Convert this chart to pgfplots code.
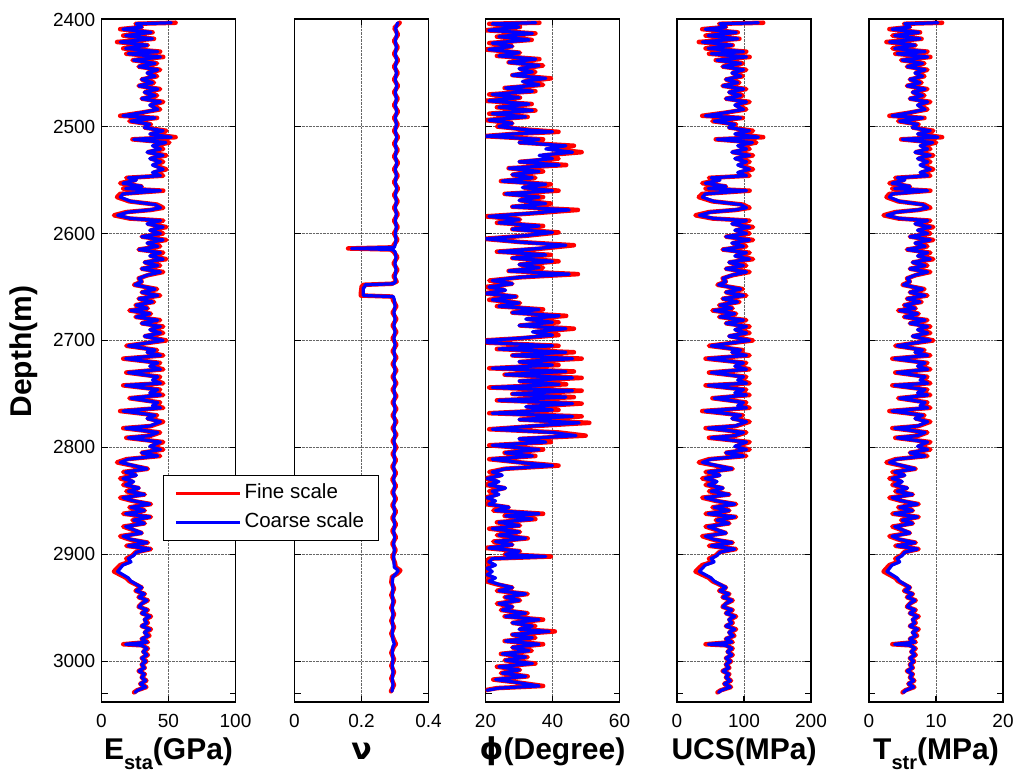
\documentclass[border=0pt]{standalone}
\usepackage{pgfplots}
\pgfplotsset{compat=1.18}
\usepackage{pgfplotstable}
\usepackage{fontspec}
\setmainfont{Liberation Sans}
\newfontfamily\dejavu{DejaVu Sans}

\pgfplotstableread{
d Ec Ef Uc Uf Tc Tf
2403 52 55.3 121.4 128.7 10.28 10.91
2404 26 25.4 64.2 62.9 5.34 5.23
2407 30 30.0 73.0 73.0 6.10 6.10
2409 16 13.9 42.2 37.6 3.44 3.04
2412 37 38.1 88.4 90.7 7.43 7.63
2415 18 16.2 46.6 42.6 3.82 3.48
2418 38 39.2 90.6 93.2 7.62 7.85
2421 14 11.6 37.8 32.5 3.06 2.60
2424 34 34.6 81.8 83.1 6.86 6.97
2427 18 16.2 46.6 42.6 3.82 3.48
2430 42 43.8 99.4 103.4 8.38 8.72
2432 20 18.5 51.0 47.7 4.20 3.92
2435 44 46.1 103.8 108.4 8.76 9.16
2438 24 23.1 59.8 57.8 4.96 4.79
2441 40 41.5 95.0 98.3 8.00 8.28
2444 28 27.7 68.6 68.0 5.72 5.66
2447 42 43.8 99.4 103.4 8.38 8.72
2450 34 34.6 81.8 83.1 6.86 6.97
2453 40 41.5 95.0 98.3 8.00 8.28
2456 30 30.0 73.0 73.0 6.10 6.10
2459 38 39.2 90.6 93.2 7.62 7.85
2462 28 27.7 68.6 68.0 5.72 5.66
2465 42 43.8 99.4 103.4 8.38 8.72
2468 32 32.3 77.4 78.1 6.48 6.54
2471 40 41.5 95.0 98.3 8.00 8.28
2474 30 30.0 73.0 73.0 6.10 6.10
2477 44 46.1 103.8 108.4 8.76 9.16
2480 36 36.9 86.2 88.2 7.24 7.41
2484 42 43.8 99.4 103.4 8.38 8.72
2487 30 30.0 73.0 73.0 6.10 6.10
2490 16 13.9 42.2 37.6 3.44 3.04
2492 40 41.5 95.0 98.3 8.00 8.28
2495 22 20.8 55.4 52.8 4.58 4.35
2498 36 36.9 86.2 88.2 7.24 7.41
2501 32 32.3 77.4 78.1 6.48 6.54
2504 46 48.4 108.2 113.5 9.14 9.60
2507 36 36.9 86.2 88.2 7.24 7.41
2510 52 55.3 121.4 128.7 10.28 10.91
2512 24 23.1 59.8 57.8 4.96 4.79
2515 48 50.7 112.6 118.5 9.52 10.03
2518 38 39.2 90.6 93.2 7.62 7.85
2521 44 46.1 103.8 108.4 8.76 9.16
2524 34 34.6 81.8 83.1 6.86 6.97
2527 46 48.4 108.2 113.5 9.14 9.60
2530 36 36.9 86.2 88.2 7.24 7.41
2533 44 46.1 103.8 108.4 8.76 9.16
2536 38 39.2 90.6 93.2 7.62 7.85
2540 46 48.4 108.2 113.5 9.14 9.60
2543 38 39.2 90.6 93.2 7.62 7.85
2546 44 46.1 103.8 108.4 8.76 9.16
2548 20 18.5 51.0 47.7 4.20 3.92
2550 26 25.4 64.2 62.9 5.34 5.23
2553 16 13.9 42.2 37.6 3.44 3.04
2556 30 30.0 73.0 73.0 6.10 6.10
2558 18 16.2 46.6 42.6 3.82 3.48
2560 44 46.1 103.8 108.4 8.76 9.16
2563 16 13.9 42.2 37.6 3.44 3.04
2566 14 11.6 37.8 32.5 3.06 2.60
2570 22 20.8 55.4 52.8 4.58 4.35
2573 40 41.5 95.0 98.3 8.00 8.28
2576 44 46.1 103.8 108.4 8.76 9.16
2578 36 36.9 86.2 88.2 7.24 7.41
2580 20 18.5 51.0 47.7 4.20 3.92
2583 12 9.3 33.4 27.5 2.68 2.17
2586 22 20.8 55.4 52.8 4.58 4.35
2588 44 46.1 103.8 108.4 8.76 9.16
2591 34 34.6 81.8 83.1 6.86 6.97
2594 46 48.4 108.2 113.5 9.14 9.60
2597 36 36.9 86.2 88.2 7.24 7.41
2600 44 46.1 103.8 108.4 8.76 9.16
2603 30 30.0 73.0 73.0 6.10 6.10
2606 46 48.4 108.2 113.5 9.14 9.60
2609 34 34.6 81.8 83.1 6.86 6.97
2612 42 43.8 99.4 103.4 8.38 8.72
2615 28 27.7 68.6 68.0 5.72 5.66
2618 44 46.1 103.8 108.4 8.76 9.16
2621 36 36.9 86.2 88.2 7.24 7.41
2624 46 48.4 108.2 113.5 9.14 9.60
2627 32 32.3 77.4 78.1 6.48 6.54
2630 42 43.8 99.4 103.4 8.38 8.72
2633 30 30.0 73.0 73.0 6.10 6.10
2636 44 46.1 103.8 108.4 8.76 9.16
2639 34 34.6 81.8 83.1 6.86 6.97
2642 28 27.7 68.6 68.0 5.72 5.66
2645 30 30.0 73.0 73.0 6.10 6.10
2648 25 24.3 62.0 60.4 5.15 5.01
2652 40 41.5 95.0 98.3 8.00 8.28
2655 30 30.0 73.0 73.0 6.10 6.10
2658 42 43.8 99.4 103.4 8.38 8.72
2661 28 27.7 68.6 68.0 5.72 5.66
2664 38 39.2 90.6 93.2 7.62 7.85
2667 26 25.4 64.2 62.9 5.34 5.23
2670 34 34.6 81.8 83.1 6.86 6.97
2672 22 20.8 55.4 52.8 4.58 4.35
2675 36 36.9 86.2 88.2 7.24 7.41
2678 26 25.4 64.2 62.9 5.34 5.23
2681 42 43.8 99.4 103.4 8.38 8.72
2684 30 30.0 73.0 73.0 6.10 6.10
2687 44 46.1 103.8 108.4 8.76 9.16
2690 36 36.9 86.2 88.2 7.24 7.41
2693 44 46.1 103.8 108.4 8.76 9.16
2696 32 32.3 77.4 78.1 6.48 6.54
2700 46 48.4 108.2 113.5 9.14 9.60
2705 20 18.5 51.0 47.7 4.20 3.92
2709 40 41.5 95.0 98.3 8.00 8.28
2711 34 34.6 81.8 83.1 6.86 6.97
2714 44 46.1 103.8 108.4 8.76 9.16
2717 18 16.2 46.6 42.6 3.82 3.48
2721 42 43.8 99.4 103.4 8.38 8.72
2724 36 36.9 86.2 88.2 7.24 7.41
2727 44 46.1 103.8 108.4 8.76 9.16
2730 20 18.5 51.0 47.7 4.20 3.92
2734 42 43.8 99.4 103.4 8.38 8.72
2737 38 39.2 90.6 93.2 7.62 7.85
2740 44 46.1 103.8 108.4 8.76 9.16
2742 18 16.2 46.6 42.6 3.82 3.48
2746 42 43.8 99.4 103.4 8.38 8.72
2749 36 36.9 86.2 88.2 7.24 7.41
2751 44 46.1 103.8 108.4 8.76 9.16
2754 22 20.8 55.4 52.8 4.58 4.35
2758 42 43.8 99.4 103.4 8.38 8.72
2761 38 39.2 90.6 93.2 7.62 7.85
2763 44 46.1 103.8 108.4 8.76 9.16
2766 16 13.9 42.2 37.6 3.44 3.04
2770 40 41.5 95.0 98.3 8.00 8.28
2773 34 34.6 81.8 83.1 6.86 6.97
2776 44 46.1 103.8 108.4 8.76 9.16
2780 36 36.9 86.2 88.2 7.24 7.41
2782 18 16.2 46.6 42.6 3.82 3.48
2786 42 43.8 99.4 103.4 8.38 8.72
2789 36 36.9 86.2 88.2 7.24 7.41
2791 20 18.5 51.0 47.7 4.20 3.92
2795 44 46.1 103.8 108.4 8.76 9.16
2799 36 36.9 86.2 88.2 7.24 7.41
2802 44 46.1 103.8 108.4 8.76 9.16
2805 30 30.0 73.0 73.0 6.10 6.10
2808 42 43.8 99.4 103.4 8.38 8.72
2811 20 18.5 51.0 47.7 4.20 3.92
2814 14 11.6 37.8 32.5 3.06 2.60
2817 24 23.1 59.8 57.8 4.96 4.79
2820 34 34.6 81.8 83.1 6.86 6.97
2823 18 16.2 46.6 42.6 3.82 3.48
2826 26 25.4 64.2 62.9 5.34 5.23
2829 16 13.9 42.2 37.6 3.44 3.04
2832 24 23.1 59.8 57.8 4.96 4.79
2835 18 16.2 46.6 42.6 3.82 3.48
2838 28 27.7 68.6 68.0 5.72 5.66
2841 20 18.5 51.0 47.7 4.20 3.92
2844 32 32.3 77.4 78.1 6.48 6.54
2847 16 13.9 42.2 37.6 3.44 3.04
2850 24 23.1 59.8 57.8 4.96 4.79
2853 36 36.9 86.2 88.2 7.24 7.41
2856 22 20.8 55.4 52.8 4.58 4.35
2859 32 32.3 77.4 78.1 6.48 6.54
2862 18 16.2 46.6 42.6 3.82 3.48
2865 36 36.9 86.2 88.2 7.24 7.41
2868 24 23.1 59.8 57.8 4.96 4.79
2871 32 32.3 77.4 78.1 6.48 6.54
2874 18 16.2 46.6 42.6 3.82 3.48
2877 24 23.1 59.8 57.8 4.96 4.79
2880 30 30.0 73.0 73.0 6.10 6.10
2883 16 13.9 42.2 37.6 3.44 3.04
2886 22 20.8 55.4 52.8 4.58 4.35
2889 34 34.6 81.8 83.1 6.86 6.97
2892 20 18.5 51.0 47.7 4.20 3.92
2895 36 36.9 86.2 88.2 7.24 7.41
2898 26 25.4 64.2 62.9 5.34 5.23
2901 24 23.1 59.8 57.8 4.96 4.79
2904 20 18.5 51.0 47.7 4.20 3.92
2907 22 20.8 55.4 52.8 4.58 4.35
2910 16 13.9 42.2 37.6 3.44 3.04
2913 14 11.6 37.8 32.5 3.06 2.60
2916 12 9.3 33.4 27.5 2.68 2.17
2919 16 13.9 42.2 37.6 3.44 3.04
2922 20 18.5 51.0 47.7 4.20 3.92
2925 22 20.8 55.4 52.8 4.58 4.35
2928 26 25.4 64.2 62.9 5.34 5.23
2931 30 30.0 73.0 73.0 6.10 6.10
2934 26 25.4 64.2 62.9 5.34 5.23
2937 32 32.3 77.4 78.1 6.48 6.54
2940 28 27.7 68.6 68.0 5.72 5.66
2943 34 34.6 81.8 83.1 6.86 6.97
2946 30 30.0 73.0 73.0 6.10 6.10
2949 28 27.7 68.6 68.0 5.72 5.66
2952 34 34.6 81.8 83.1 6.86 6.97
2955 30 30.0 73.0 73.0 6.10 6.10
2958 36 36.9 86.2 88.2 7.24 7.41
2961 32 32.3 77.4 78.1 6.48 6.54
2964 34 34.6 81.8 83.1 6.86 6.97
2967 30 30.0 73.0 73.0 6.10 6.10
2970 36 36.9 86.2 88.2 7.24 7.41
2973 32 32.3 77.4 78.1 6.48 6.54
2976 35 35.8 84.0 85.7 7.05 7.19
2979 30 30.0 73.0 73.0 6.10 6.10
2982 34 34.6 81.8 83.1 6.86 6.97
2984 18 16.2 46.6 42.6 3.82 3.48
2985 30 30.0 73.0 73.0 6.10 6.10
2988 34 34.6 81.8 83.1 6.86 6.97
2991 31 31.2 75.2 75.5 6.29 6.32
2994 34 34.6 81.8 83.1 6.86 6.97
2997 30 30.0 73.0 73.0 6.10 6.10
3000 33 33.5 79.6 80.6 6.67 6.76
3003 30 30.0 73.0 73.0 6.10 6.10
3006 32 32.3 77.4 78.1 6.48 6.54
3009 28 27.7 68.6 68.0 5.72 5.66
3012 32 32.3 77.4 78.1 6.48 6.54
3015 30 30.0 73.0 73.0 6.10 6.10
3018 33 33.5 79.6 80.6 6.67 6.76
3021 29 28.9 70.8 70.5 5.91 5.88
3024 33 33.5 79.6 80.6 6.67 6.76
3027 27 26.6 66.4 65.4 5.53 5.44
3029 25 24.3 62.0 60.4 5.15 5.01
}\tabE

\pgfplotstableread{
d nc nf
2403 0.308 0.314
2408 0.302 0.298
2414 0.305 0.309
2420 0.301 0.297
2426 0.304 0.308
2432 0.301 0.297
2438 0.305 0.309
2444 0.301 0.297
2450 0.304 0.308
2456 0.301 0.297
2462 0.305 0.309
2468 0.301 0.297
2474 0.304 0.308
2480 0.301 0.297
2486 0.305 0.309
2492 0.301 0.297
2498 0.304 0.308
2504 0.301 0.297
2510 0.305 0.309
2516 0.301 0.297
2522 0.304 0.308
2528 0.301 0.297
2534 0.305 0.309
2540 0.301 0.297
2546 0.304 0.308
2552 0.301 0.297
2558 0.305 0.309
2564 0.301 0.297
2570 0.304 0.308
2576 0.301 0.297
2582 0.304 0.308
2588 0.301 0.297
2594 0.304 0.308
2600 0.301 0.297
2606 0.303 0.307
2611 0.300 0.296
2613 0.298 0.294
2614 0.170 0.160
2615 0.292 0.287
2617 0.300 0.296
2622 0.303 0.307
2628 0.300 0.296
2634 0.303 0.307
2640 0.300 0.296
2645 0.302 0.305
2647 0.295 0.290
2648 0.210 0.205
2650 0.210 0.200
2651 0.205 0.200
2656 0.205 0.198
2658 0.205 0.198
2659 0.295 0.292
2662 0.298 0.294
2668 0.300 0.304
2674 0.297 0.293
2680 0.300 0.304
2686 0.297 0.293
2692 0.300 0.304
2698 0.297 0.293
2704 0.300 0.304
2710 0.297 0.293
2716 0.300 0.304
2722 0.297 0.293
2728 0.300 0.304
2734 0.297 0.293
2740 0.300 0.304
2746 0.297 0.293
2752 0.300 0.304
2758 0.297 0.293
2764 0.300 0.304
2770 0.297 0.293
2776 0.300 0.304
2782 0.297 0.293
2788 0.300 0.304
2794 0.297 0.293
2800 0.300 0.304
2806 0.297 0.293
2812 0.299 0.303
2818 0.296 0.292
2824 0.299 0.303
2830 0.296 0.292
2836 0.299 0.303
2842 0.296 0.292
2848 0.299 0.303
2854 0.296 0.292
2860 0.299 0.303
2866 0.296 0.292
2872 0.299 0.303
2878 0.296 0.292
2884 0.299 0.303
2890 0.296 0.292
2896 0.298 0.302
2902 0.296 0.292
2908 0.297 0.300
2912 0.298 0.302
2915 0.310 0.316
2918 0.303 0.307
2921 0.294 0.291
2926 0.292 0.289
2932 0.294 0.297
2938 0.292 0.289
2944 0.294 0.297
2950 0.292 0.289
2956 0.294 0.297
2962 0.292 0.289
2968 0.294 0.297
2974 0.292 0.289
2980 0.294 0.297
2984 0.298 0.303
2986 0.294 0.297
2992 0.292 0.289
2998 0.294 0.297
3004 0.292 0.289
3010 0.294 0.297
3016 0.292 0.289
3022 0.294 0.297
3028 0.291 0.288
}\tabNu

\pgfplotstableread{
d pc pf
2403 35 36.1
2404 22 21.1
2407 30 30.3
2410 21 20.0
2413 34 34.9
2416 24 23.4
2419 33 33.8
2422 22 21.1
2425 28 28.0
2428 21 20.0
2431 30 30.3
2434 24 23.4
2437 35 36.1
2440 27 26.9
2443 36 37.2
2446 30 30.3
2449 34 34.9
2452 28 28.0
2455 38 39.5
2458 31 31.5
2461 36 37.2
2464 26 25.7
2467 34 34.9
2470 22 21.1
2473 30 30.3
2476 21 20.0
2479 33 33.8
2482 24 23.4
2485 34 34.9
2488 22 21.1
2491 32 32.6
2494 21 20.0
2497 28 28.0
2500 24 23.4
2503 32 32.6
2505 40 41.8
2507 28 28.0
2509 20 19.5
2512 36 37.2
2515 30 30.3
2518 44 46.4
2521 38 39.5
2524 46 48.7
2527 36 37.2
2530 40 41.8
2533 30 30.3
2536 42 44.1
2539 27 26.9
2542 36 37.2
2545 28 28.0
2548 34 34.9
2551 25 24.6
2554 38 39.5
2557 31 31.5
2560 40 41.8
2563 26 25.7
2566 36 37.2
2569 30 30.3
2572 38 39.5
2575 28 28.0
2578 45 47.6
2581 34 34.9
2584 21 20.0
2587 30 30.3
2590 24 23.4
2593 36 37.2
2596 28 28.0
2599 40 41.8
2602 32 32.6
2605 20 19.5
2608 30 30.3
2611 44 46.4
2614 36 37.2
2617 24 23.4
2620 38 39.5
2623 28 28.0
2626 40 41.8
2629 30 30.3
2632 36 37.2
2635 27 26.9
2638 45 47.6
2641 30 30.3
2644 22 21.1
2647 28 28.0
2650 21 20.0
2653 26 25.7
2656 20 19.5
2659 29 29.2
2662 22 21.1
2665 30 30.3
2668 24 23.4
2671 36 37.2
2674 28 28.0
2677 42 44.1
2680 32 32.6
2683 40 41.8
2686 30 30.3
2689 44 46.4
2692 34 34.9
2695 40 41.8
2698 30 30.3
2700 20 19.5
2702 20.5 19.9
2705 40 41.8
2708 24 23.4
2711 44 46.4
2714 28 28.0
2717 46 48.7
2720 30 30.3
2723 40 41.8
2726 22 21.1
2729 44 46.4
2732 26 25.7
2735 46 48.7
2738 30 30.3
2741 42 44.1
2744 22 21.1
2747 46 48.7
2750 28 28.0
2753 44 46.4
2756 24 23.4
2759 46 48.7
2762 32 32.6
2765 40 41.8
2768 22 21.1
2771 46 48.7
2774 30 30.3
2777 48 51.0
2780 34 34.9
2783 22 21.1
2786 40 41.8
2789 47 49.9
2792 30 30.3
2795 38 39.5
2798 22 21.1
2802 36 37.2
2805 26 25.7
2808 34 34.9
2811 22 21.1
2814 30 30.3
2817 40 41.8
2820 26 25.7
2823 22 21.1
2826 25 24.6
2829 20.5 19.9
2832 24 23.4
2835 21 20.0
2838 26 25.7
2841 22 21.1
2844 24 23.4
2847 20.5 19.9
2850 23 22.3
2853 21 20.0
2856 27 26.9
2859 23 22.3
2862 36 37.2
2864 26 25.7
2867 34 34.9
2870 24 23.4
2873 30 30.3
2876 22 21.1
2879 30 30.3
2882 24 23.4
2885 32 32.6
2888 23 22.3
2891 28 28.0
2894 21 20.0
2897 30 30.3
2900 26 25.7
2902 38 39.5
2904 22 21.1
2907 21 20.0
2910 23 22.3
2913 20.5 19.9
2916 22 21.1
2919 20.5 19.9
2922 23 22.3
2925 21 20.0
2928 24 23.4
2931 28 28.0
2934 24 23.4
2937 32 32.6
2940 26 25.7
2943 30 30.3
2946 24 23.4
2949 28 28.0
2952 25 24.6
2955 32 32.6
2958 26 25.7
2961 36 37.2
2964 28 28.0
2967 34 34.9
2970 30 30.3
2972 39 40.7
2975 28 28.0
2978 34 34.9
2981 26 25.7
2984 36 37.2
2987 28 28.0
2990 33 33.8
2993 25 24.6
2996 32 32.6
2999 26 25.7
3002 34 34.9
3005 24 23.4
3008 30 30.3
3011 25 24.6
3014 32 32.6
3017 23 22.3
3020 30 30.3
3023 36 37.2
3025 24 23.4
3027 20.5 19.9
}\tabPhi

\pgfplotsset{
  panel/.style={
    scale only axis, width=134pt, height=683pt,
    anchor=south west,
    y dir=reverse, ymin=2399.5, ymax=3038,
    ytick={2400,2500,2600,2700,2800,2900,3000}, yticklabels={},
    extra y ticks={3030}, extra y tick labels={},
    extra y tick style={grid=none},
    grid=major, grid style={densely dotted, black!60, line width=0.8pt},
    axis line style={line width=1.4pt},
    tick align=inside, major tick length=6pt,
    every tick/.append style={black, line width=1.2pt},
    tick label style={font=\fontsize{19}{22}\selectfont},
    xticklabel style={anchor=base, yshift=-25pt},
    xlabel style={at={(axis description cs:0.5,-0.0849)}, anchor=base,
      font=\fontsize{30}{34}\selectfont\bfseries},
  },
  fine/.style={red, line width=4.5pt, line join=round, line cap=round},
  coarse/.style={blue, line width=3.2pt, line join=round, line cap=round},
}

\begin{document}
\begin{tikzpicture}
\path[use as bounding box] (0pt,0pt) rectangle (1014pt,776pt);

% panel 2: nu
\begin{axis}[panel, at={(294.5pt,74pt)},
  xmin=0, xmax=0.4, xtick={0,0.2,0.4}, xticklabels={0,0.2,0.4},
  xlabel={{\dejavu\bfseries ν}}]
\addplot[fine] table[x=nf, y=d] {\tabNu};
\addplot[coarse] table[x=nc, y=d] {\tabNu};
\end{axis}

% panel 3: phi
\begin{axis}[panel, at={(485.5pt,74pt)},
  xmin=20, xmax=60, xtick={20,40,60}, xticklabels={20,40,60},
  xlabel={{\dejavu\bfseries ϕ}(Degree)}]
\addplot[fine] table[x=pf, y=d] {\tabPhi};
\addplot[coarse] table[x=pc, y=d] {\tabPhi};
\end{axis}

% panel 4: UCS
\begin{axis}[panel, at={(677pt,74pt)},
  xmin=0, xmax=200, xtick={0,100,200}, xticklabels={0,100,200},
  xlabel={UCS(MPa)}]
\addplot[fine] table[x=Uf, y=d] {\tabE};
\addplot[coarse] table[x=Uc, y=d] {\tabE};
\end{axis}

% panel 5: T
\begin{axis}[panel, at={(869pt,74pt)},
  xmin=0, xmax=20, xtick={0,10,20}, xticklabels={0,10,20},
  xlabel={T\raisebox{-10pt}{\fontsize{20}{22}\selectfont\bfseries str}(MPa)}]
\addplot[fine] table[x=Tf, y=d] {\tabE};
\addplot[coarse] table[x=Tc, y=d] {\tabE};
\end{axis}

% panel 1: E (drawn last so its legend lies on top)
\begin{axis}[panel, at={(101.5pt,74pt)},
  xmin=0, xmax=100, xtick={0,50,100}, xticklabels={0,50,100},
  yticklabels={2400,2500,2600,2700,2800,2900,3000},
  yticklabel style={anchor=east, inner sep=6pt},
  xlabel={E\raisebox{-10pt}{\fontsize{20}{22}\selectfont\bfseries sta}(GPa)},
  ylabel={Depth(m)},
  ylabel style={at={(axis description cs:-0.526,0.513)}, anchor=base,
    font=\fontsize{30}{34}\selectfont\bfseries},
  legend cell align=left,
  legend image code/.code={\draw[#1, line width=3pt, line cap=butt] (0pt,0pt) -- (64pt,0pt);},
  legend style={at={(0.459,0.332)}, anchor=north west, draw=black,
    line width=1pt, fill=white, font=\fontsize{20.5}{24}\selectfont,
    inner xsep=11pt, inner ysep=3pt,
    nodes={inner xsep=3pt, inner ysep=5.5pt, text height=14pt, text depth=4.5pt}}]
\addplot[fine] table[x=Ef, y=d] {\tabE};
\addlegendentry{Fine scale}
\addplot[coarse] table[x=Ec, y=d] {\tabE};
\addlegendentry{Coarse scale}
\end{axis}
\end{tikzpicture}
\end{document}
